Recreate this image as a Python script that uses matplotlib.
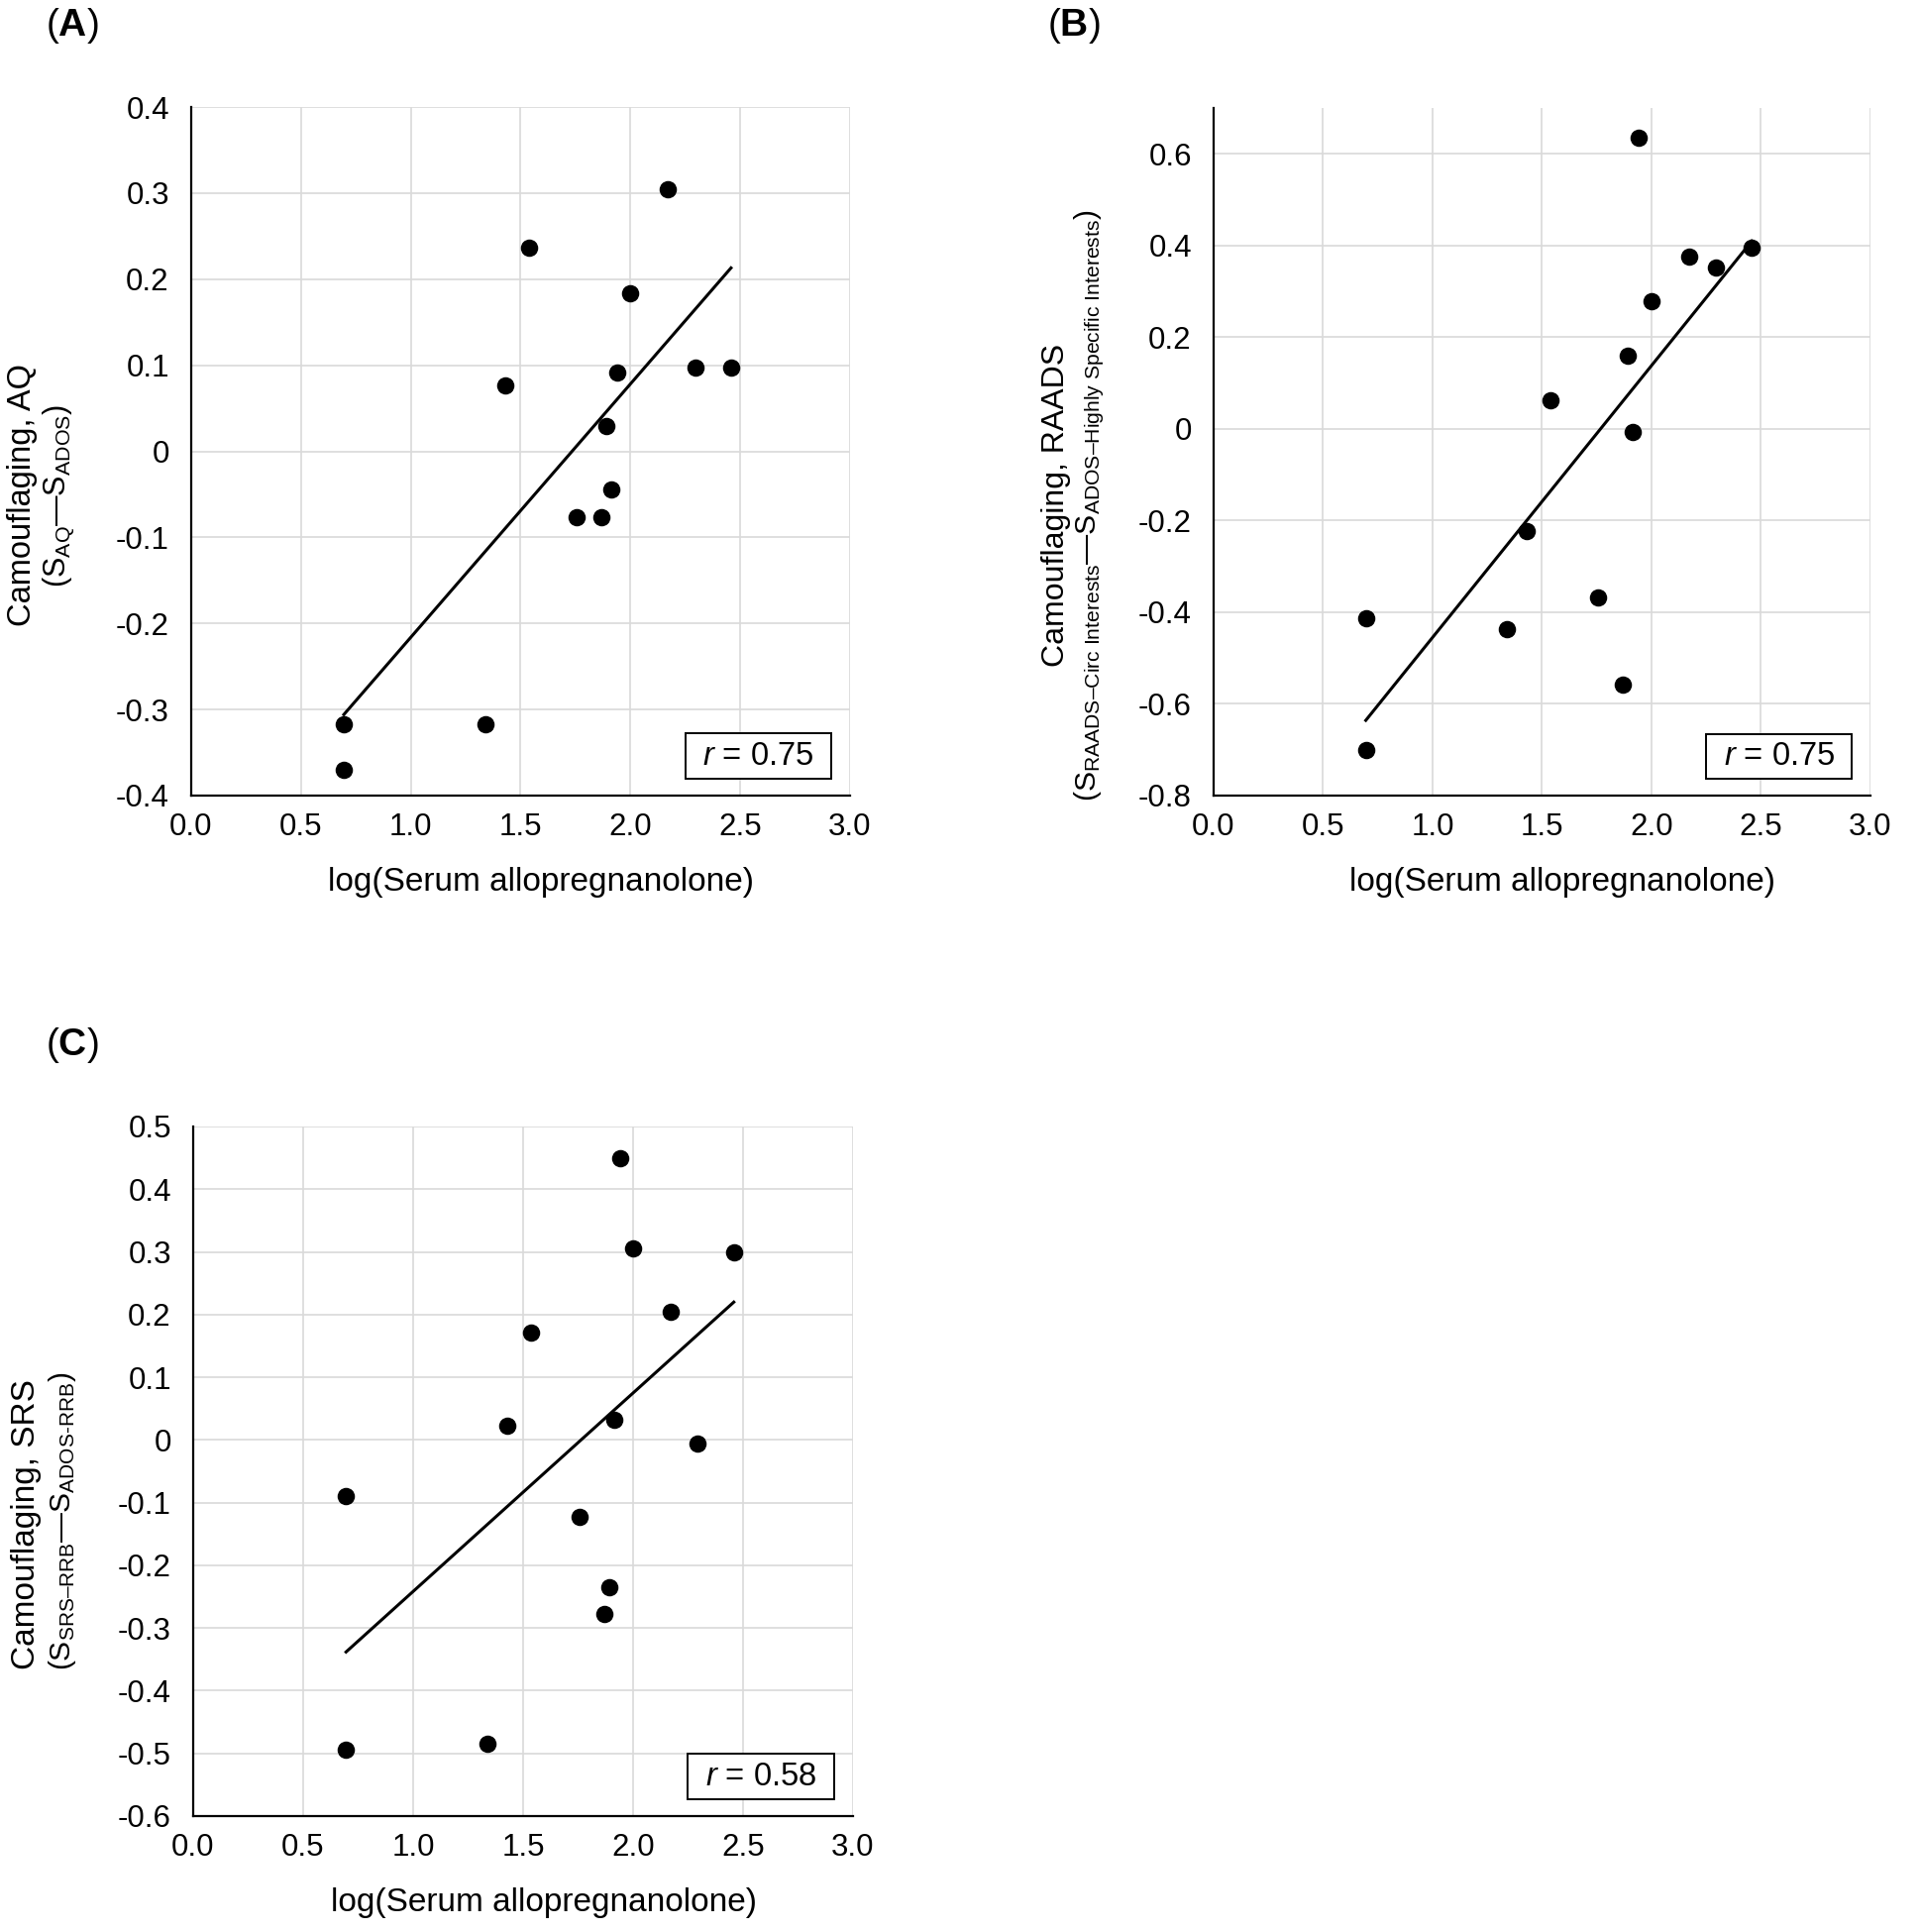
import numpy as np
import matplotlib
matplotlib.use('Agg')
import matplotlib.pyplot as plt
from matplotlib.patches import Rectangle

plt.rcParams['font.family'] = ['Liberation Sans', 'DejaVu Sans']
plt.rcParams['mathtext.fontset'] = 'custom'
plt.rcParams['mathtext.rm'] = 'Liberation Sans'
plt.rcParams['mathtext.it'] = 'Liberation Sans:italic'
plt.rcParams['mathtext.bf'] = 'Liberation Sans:bold'

# log(Serum allopregnanolone), same subjects in all three panels
log_allo = [0.695, 0.695, 1.34, 1.43, 1.537, 1.756, 1.868, 1.89, 1.913, 1.941, 1.998, 2.17, 2.295, 2.458]

# camouflaging scores
camo_aq = [-0.317, -0.370, -0.317, 0.077, 0.237, -0.077, -0.077, 0.029, -0.044, 0.091, 0.184, 0.304, 0.097, 0.097]
camo_raads = [-0.413, -0.701, -0.437, -0.222, 0.063, -0.367, -0.558, 0.160, -0.007, 0.635, 0.278, 0.375, 0.351, 0.396]
camo_srs = [-0.089, -0.494, -0.484, 0.023, 0.172, -0.123, -0.278, -0.235, 0.032, 0.449, 0.305, 0.205, -0.005, 0.300]

r_values = ['0.75', '0.75', '0.58']

x_ticks = [0.0, 0.5, 1.0, 1.5, 2.0, 2.5, 3.0]
x_ticklabels = ['0.0', '0.5', '1.0', '1.5', '2.0', '2.5', '3.0']

y_ticks_a = [-0.4, -0.3, -0.2, -0.1, 0, 0.1, 0.2, 0.3, 0.4]
y_ticklabels_a = ['-0.4', '-0.3', '-0.2', '-0.1', '0', '0.1', '0.2', '0.3', '0.4']
y_ticks_b = [-0.8, -0.6, -0.4, -0.2, 0, 0.2, 0.4, 0.6]
y_ticklabels_b = ['-0.8', '-0.6', '-0.4', '-0.2', '0', '0.2', '0.4', '0.6']
y_ticks_c = [-0.6, -0.5, -0.4, -0.3, -0.2, -0.1, 0, 0.1, 0.2, 0.3, 0.4, 0.5]
y_ticklabels_c = ['-0.6', '-0.5', '-0.4', '-0.3', '-0.2', '-0.1', '0', '0.1', '0.2', '0.3', '0.4', '0.5']

W, H = 1940, 1950
fig = plt.figure(figsize=(W / 100, H / 100), dpi=100)


def px_axes(left, top, right, bottom):
    return fig.add_axes([left / W, 1 - bottom / H, (right - left) / W, (bottom - top) / H])


def panel(ax, y, yticks, yticklabels, ylim, r):
    x = np.array(log_allo)
    y = np.array(y)
    ax.set_xlim(0, 3.0)
    ax.set_ylim(*ylim)
    ax.set_xticks(x_ticks)
    ax.set_xticklabels(x_ticklabels)
    ax.set_yticks(yticks)
    ax.set_yticklabels(yticklabels)
    ax.grid(True, color='#d9d9d9', lw=1.2)
    ax.set_axisbelow(True)
    for s in ['top', 'right']:
        ax.spines[s].set_visible(False)
    for s in ['left', 'bottom']:
        ax.spines[s].set_linewidth(1.6)
    ax.tick_params(length=0, labelsize=22.5)
    ax.tick_params(axis='x', pad=12)
    ax.tick_params(axis='y', pad=16)
    ax.scatter(x, y, s=135, color='black', zorder=3, clip_on=False)
    k, b = np.polyfit(x, y, 1)
    xs = np.array([x.min(), x.max()])
    ax.plot(xs, k * xs + b, color='black', lw=2.2, zorder=2)
    ax.add_patch(Rectangle((0.75, 0.025), 0.222, 0.065, transform=ax.transAxes,
                           fc='white', ec='black', lw=1.4, zorder=4))
    ax.text(0.861, 0.057, '$\\mathit{r}$ = ' + r, transform=ax.transAxes,
            ha='center', va='center', fontsize=23.5, zorder=5)
    ax.set_xlabel('log(Serum allopregnanolone)', fontsize=24)
    ax.xaxis.set_label_coords(0.531, -0.104)


ax_a = px_axes(193, 108, 858, 803)
panel(ax_a, camo_aq, y_ticks_a, y_ticklabels_a, (-0.4, 0.4), r_values[0])
ax_b = px_axes(1225, 109, 1888, 803)
panel(ax_b, camo_raads, y_ticks_b, y_ticklabels_b, (-0.8, 0.7), r_values[1])
ax_c = px_axes(195, 1137, 861, 1833)
panel(ax_c, camo_srs, y_ticks_c, y_ticklabels_c, (-0.6, 0.5), r_values[2])

# y labels
def ylab(x, y, s, size):
    fig.text(x / W, 1 - y / H, s, rotation=90, ha='center', va='center', fontsize=size)

ylab(23, 500, 'Camouflaging, AQ', 23.5)
ylab(59, 500, '($\\mathrm{S_{AQ}}$—$\\mathrm{S_{ADOS}}$)', 22)
ylab(1066, 510, 'Camouflaging, RAADS', 23)
ylab(1100, 510, '($\\mathrm{S_{RAADS–Circ\\ Interests}}$—$\\mathrm{S_{ADOS–Highly\\ Specific\\ Interests}}$)', 21.7)
ylab(27, 1539, 'Camouflaging, SRS', 24)
ylab(63, 1535, '($\\mathrm{S_{SRS–RRB}}$—$\\mathrm{S_{ADOS\\text{-}RRB}}$)', 21.5)

# panel letters
for px, py, letter in [(46, 26, 'A'), (1057, 26, 'B'), (46, 1055, 'C')]:
    fig.text(px / W, 1 - py / H, '($\\mathbf{' + letter + '}$)', ha='left', va='center', fontsize=28)

plt.savefig('out.png', dpi=100)
